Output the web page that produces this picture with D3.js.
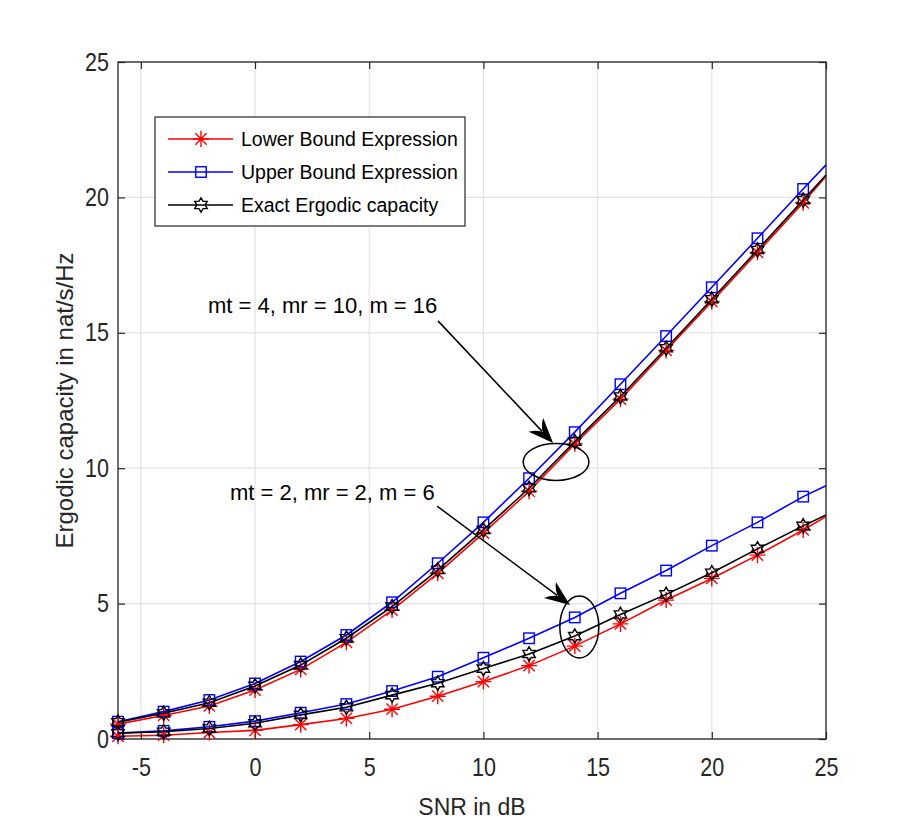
<!DOCTYPE html>
<html>
<head>
<meta charset="utf-8">
<script src="https://cdn.jsdelivr.net/npm/d3@7"></script>
<style>
  body { margin: 0; background: #fff; }
  svg { display: block; }
  .tick text { font-family: "Liberation Sans", Arial, sans-serif; font-size: 25px; fill: #262626; }
</style>
</head>
<body>
<svg id="chart" width="913" height="830"></svg>
<script>
const snr = [-6, -4, -2, 0, 2, 4, 6, 8, 10, 12, 14, 16, 18, 20, 22, 24, 25];

// mt = 4, mr = 10, m = 16
const lowerA = [0.55, 0.87, 1.22, 1.81, 2.57, 3.57, 4.76, 6.12, 7.60, 9.15, 10.90, 12.55, 14.35, 16.15, 17.97, 19.80, 20.78];
const upperA = [0.64, 1.01, 1.44, 2.05, 2.86, 3.84, 5.05, 6.49, 8.00, 9.63, 11.33, 13.10, 14.88, 16.68, 18.49, 20.31, 21.20];
const exactA = [0.62, 0.95, 1.34, 1.96, 2.73, 3.72, 4.89, 6.24, 7.72, 9.26, 10.98, 12.65, 14.43, 16.24, 18.06, 19.90, 20.83];

// mt = 2, mr = 2, m = 6
const lowerB = [0.10, 0.14, 0.24, 0.32, 0.53, 0.76, 1.10, 1.58, 2.12, 2.71, 3.43, 4.25, 5.13, 5.93, 6.79, 7.72, 8.21];
const upperB = [0.22, 0.30, 0.45, 0.66, 0.97, 1.29, 1.77, 2.30, 3.00, 3.72, 4.49, 5.38, 6.22, 7.14, 8.00, 8.95, 9.35];
const exactB = [0.21, 0.27, 0.39, 0.58, 0.89, 1.17, 1.62, 2.06, 2.60, 3.14, 3.80, 4.60, 5.34, 6.14, 7.02, 7.87, 8.27];

const xTicks = [-5, 0, 5, 10, 15, 20, 25];
const yTicks = [0, 5, 10, 15, 20, 25];

const seriesStyle = [
  { name: "Lower Bound Expression", color: "#ff0000", marker: "asterisk" },
  { name: "Upper Bound Expression", color: "#0000ff", marker: "square" },
  { name: "Exact Ergodic capacity", color: "#000000", marker: "hexagram" }
];

const groups = [
  { values: [lowerA, upperA, exactA] },
  { values: [lowerB, upperB, exactB] }
];

const annotations = [
  { text: "mt = 4, mr = 10, m = 16", tx: -2.06, ty: 15.73, from: [8.01, 15.44], to: [13.05, 10.93], ell: [13.18, 10.23, 1.44, 0.68] },
  { text: "mt = 2, mr = 2, m = 6", tx: -1.1, ty: 8.83, from: [7.97, 8.6], to: [13.79, 4.95], ell: [14.2, 4.14, 0.854, 1.145] }
];

const svg = d3.select("#chart");
const margin = { top: 62, right: 87, bottom: 91, left: 118 };
const W = 913, H = 830;

svg.append("rect").attr("width", W).attr("height", H).attr("fill", "#fff");

const x = d3.scaleLinear().domain([-6, 25]).range([margin.left, W - margin.right]);
const y = d3.scaleLinear().domain([0, 25]).range([H - margin.bottom, margin.top]);

// grid
const grid = svg.append("g").attr("stroke", "#e3e3e3").attr("stroke-width", 1.2);
xTicks.forEach(t => grid.append("line").attr("x1", x(t)).attr("x2", x(t)).attr("y1", y(0)).attr("y2", y(25)));
yTicks.forEach(t => grid.append("line").attr("x1", x(-6)).attr("x2", x(25)).attr("y1", y(t)).attr("y2", y(t)));

// axes with inward ticks
const tickLen = 7;
const fmt = d => String(d);
svg.append("g")
  .attr("transform", `translate(0,${y(0)})`)
  .call(d3.axisBottom(x).tickValues(xTicks).tickFormat(fmt).tickSizeInner(-tickLen).tickSizeOuter(0).tickPadding(19))
  .call(g => g.select(".domain").remove());
svg.append("g")
  .attr("transform", `translate(${x(-6)},0)`)
  .call(d3.axisLeft(y).tickValues(yTicks).tickFormat(fmt).tickSizeInner(-tickLen).tickSizeOuter(0).tickPadding(9))
  .call(g => g.select(".domain").remove());
svg.append("g")
  .attr("transform", `translate(0,${y(25)})`)
  .call(d3.axisTop(x).tickValues(xTicks).tickSizeInner(-tickLen).tickSizeOuter(0).tickFormat(""))
  .call(g => g.select(".domain").remove());
svg.append("g")
  .attr("transform", `translate(${x(25)},0)`)
  .call(d3.axisRight(y).tickValues(yTicks).tickSizeInner(-tickLen).tickSizeOuter(0).tickFormat(""))
  .call(g => g.select(".domain").remove());
svg.selectAll(".tick line").attr("stroke", "#262626").attr("stroke-width", 1.2);
// narrower digits, as in the original
svg.selectAll(".tick text").each(function () {
  const len = this.getComputedTextLength();
  if (len > 0) d3.select(this).attr("textLength", len * 0.86).attr("lengthAdjust", "spacingAndGlyphs");
});

svg.append("rect")
  .attr("x", x(-6)).attr("y", y(25))
  .attr("width", x(25) - x(-6)).attr("height", y(0) - y(25))
  .attr("fill", "none").attr("stroke", "#262626").attr("stroke-width", 1.3);

// markers
function drawMarker(g, type, cx, cy, color) {
  if (type === "asterisk") {
    const r = 8;
    const d = [0, 45, 90, 135].map(a => {
      const rad = a * Math.PI / 180;
      const dx = r * Math.cos(rad), dy = r * Math.sin(rad);
      return `M${cx - dx},${cy - dy}L${cx + dx},${cy + dy}`;
    }).join("");
    g.append("path").attr("d", d).attr("stroke", color).attr("stroke-width", 1.4).attr("fill", "none");
  } else if (type === "square") {
    const s = 10.5;
    g.append("rect").attr("x", cx - s / 2).attr("y", cy - s / 2).attr("width", s).attr("height", s)
      .attr("fill", "none").attr("stroke", color).attr("stroke-width", 1.4);
  } else {
    const ro = 7.2, ri = ro / Math.sqrt(3);
    const pts = d3.range(12).map(i => {
      const a = -Math.PI / 2 + i * Math.PI / 6;
      const r = i % 2 === 0 ? ro : ri;
      return [cx + r * Math.cos(a), cy + r * Math.sin(a)];
    });
    g.append("path").attr("d", "M" + pts.join("L") + "Z")
      .attr("fill", "none").attr("stroke", color).attr("stroke-width", 1.4);
  }
}

const line = d3.line().x(d => x(d[0])).y(d => y(d[1]));
const plot = svg.append("g");

groups.forEach(grp => {
  grp.values.forEach((vals, i) => {
    const st = seriesStyle[i];
    const pts = snr.map((s, k) => [s, vals[k]]);
    plot.append("path").attr("d", line(pts))
      .attr("fill", "none").attr("stroke", st.color).attr("stroke-width", 1.6);
    const mg = plot.append("g");
    pts.filter(p => p[0] % 2 === 0).forEach(p => drawMarker(mg, st.marker, x(p[0]), y(p[1]), st.color));
  });
});

// legend
const leg = svg.append("g");
const lx = 155, ly = 117, lw = 310, lh = 109;
leg.append("rect").attr("x", lx).attr("y", ly).attr("width", lw).attr("height", lh)
  .attr("fill", "#fff").attr("stroke", "#262626").attr("stroke-width", 1.2);
seriesStyle.forEach((st, i) => {
  const yy = ly + 22 + i * 33;
  leg.append("line").attr("x1", lx + 13).attr("x2", lx + 78).attr("y1", yy).attr("y2", yy)
    .attr("stroke", st.color).attr("stroke-width", 1.6);
  drawMarker(leg, st.marker, lx + 46, yy, st.color);
  leg.append("text").attr("x", lx + 86).attr("y", yy + 7)
    .attr("font-family", "Liberation Sans, Arial, sans-serif").attr("font-size", 19.5)
    .attr("fill", "#000").text(st.name);
});

// annotations
function arrowHead(x1, y1, x2, y2) {
  const ang = Math.atan2(y2 - y1, x2 - x1);
  const L = 25, Wd = 10, back = 10;
  const ux = Math.cos(ang), uy = Math.sin(ang);
  const nx = -uy, ny = ux;
  const bx = x2 - L * ux, by = y2 - L * uy;
  const mx = x2 - (L - back) * ux, my = y2 - (L - back) * uy;
  const c1x = x2 - (L - 4) * ux + nx * 3, c1y = y2 - (L - 4) * uy + ny * 3;
  const c2x = x2 - (L - 4) * ux - nx * 3, c2y = y2 - (L - 4) * uy - ny * 3;
  return `M${x2},${y2}L${bx + nx * Wd},${by + ny * Wd}Q${c1x},${c1y} ${mx},${my}Q${c2x},${c2y} ${bx - nx * Wd},${by - ny * Wd}Z`;
}

const ann = svg.append("g");
annotations.forEach(a => {
  ann.append("text").attr("x", x(a.tx)).attr("y", y(a.ty))
    .attr("font-family", "Liberation Sans, Arial, sans-serif").attr("font-size", 22)
    .attr("fill", "#000").text(a.text);
  const x1 = x(a.from[0]), y1 = y(a.from[1]), x2 = x(a.to[0]), y2 = y(a.to[1]);
  const ang = Math.atan2(y2 - y1, x2 - x1);
  ann.append("line").attr("x1", x1).attr("y1", y1)
    .attr("x2", x2 - 16 * Math.cos(ang)).attr("y2", y2 - 16 * Math.sin(ang))
    .attr("stroke", "#000").attr("stroke-width", 1.5);
  ann.append("path").attr("d", arrowHead(x1, y1, x2, y2)).attr("fill", "#000");
  const [ex, ey, erx, ery] = a.ell;
  ann.append("ellipse").attr("cx", x(ex)).attr("cy", y(ey))
    .attr("rx", x(ex + erx) - x(ex)).attr("ry", y(ey) - y(ey + ery))
    .attr("fill", "none").attr("stroke", "#000").attr("stroke-width", 1.5);
});

// axis labels
svg.append("text").attr("x", (x(-6) + x(25)) / 2).attr("y", 815)
  .attr("text-anchor", "middle").attr("font-family", "Liberation Sans, Arial, sans-serif")
  .attr("font-size", 23).attr("fill", "#262626").text("SNR in dB");
svg.append("text").attr("transform", `translate(73,${(y(0) + y(25)) / 2}) rotate(-90)`)
  .attr("text-anchor", "middle").attr("font-family", "Liberation Sans, Arial, sans-serif")
  .attr("font-size", 24).attr("fill", "#262626").text("Ergodic capacity in nat/s/Hz");
</script>
</body>
</html>
